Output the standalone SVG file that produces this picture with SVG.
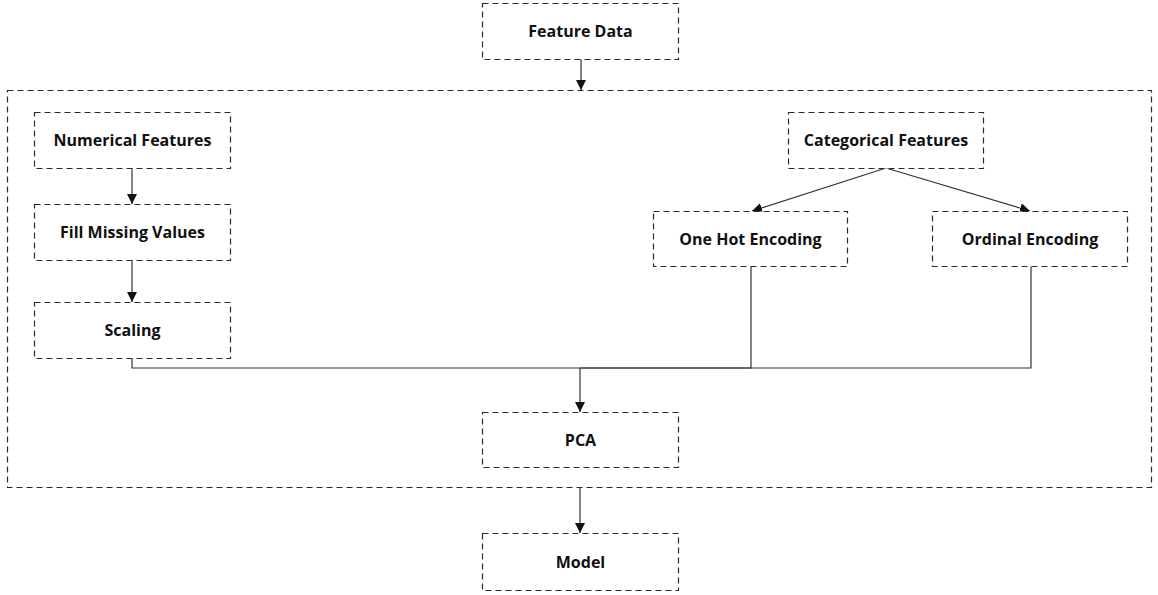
<svg xmlns="http://www.w3.org/2000/svg" width="1158" height="595" viewBox="0 0 1158 595">
<defs>
<style>
.box{fill:#fff;stroke:#2a2a2a;stroke-width:1.2;stroke-dasharray:6 4}
.outer{fill:none;stroke:#2a2a2a;stroke-width:1.2;stroke-dasharray:6 4}
.lbl{font-family:"Open Sans","Liberation Sans",sans-serif;font-weight:700;font-size:16px;fill:#111;text-anchor:middle;dominant-baseline:central}
.conn{fill:none;stroke:#333;stroke-width:1.2}
</style>
<marker id="arr" viewBox="0 0 10 10" refX="10" refY="5" markerWidth="10" markerHeight="10" markerUnits="userSpaceOnUse" orient="auto">
<path d="M0,0 L10,5 L0,10 z" fill="#111"/>
</marker>
</defs>
<rect width="1158" height="595" fill="#fff"/>
<g id="pipeline-frame"><rect class="outer" x="7.5" y="90.5" width="1144" height="397"/></g>
<g id="connectors">
<path class="conn" d="M581,59 V90" marker-end="url(#arr)"/>
<path class="conn" d="M132,168 V204" marker-end="url(#arr)"/>
<path class="conn" d="M132,260 V302" marker-end="url(#arr)"/>
<path class="conn" d="M886,168 L752,211" marker-end="url(#arr)"/>
<path class="conn" d="M886,168 L1030,211" marker-end="url(#arr)"/>
<path class="conn" d="M132,358 V368 H580"/>
<path class="conn" d="M751,266 V368 H580"/>
<path class="conn" d="M1031,266 V368 H580"/>
<path class="conn" d="M580,368 V412" marker-end="url(#arr)"/>
<path class="conn" d="M580,487 V533" marker-end="url(#arr)"/>
</g>
<g id="feature-data"><rect class="box" x="482.5" y="3.5" width="196" height="56"/><text class="lbl" x="580.5" y="31">Feature Data</text></g>
<g id="numerical-features"><rect class="box" x="34.5" y="112.5" width="196" height="56"/><text class="lbl" x="132.5" y="140">Numerical Features</text></g>
<g id="fill-missing-values"><rect class="box" x="34.5" y="204.5" width="196" height="56"/><text class="lbl" x="132.5" y="232">Fill Missing Values</text></g>
<g id="scaling"><rect class="box" x="34.5" y="302.5" width="196" height="56"/><text class="lbl" x="132.5" y="330">Scaling</text></g>
<g id="categorical-features"><rect class="box" x="788.5" y="112.5" width="195" height="56"/><text class="lbl" x="886" y="140">Categorical Features</text></g>
<g id="one-hot-encoding"><rect class="box" x="653.5" y="211.5" width="194" height="55"/><text class="lbl" x="750.5" y="239">One Hot Encoding</text></g>
<g id="ordinal-encoding"><rect class="box" x="932.5" y="211.5" width="195" height="55"/><text class="lbl" x="1030" y="239">Ordinal Encoding</text></g>
<g id="pca"><rect class="box" x="482.5" y="412.5" width="196" height="55"/><text class="lbl" x="580.5" y="440">PCA</text></g>
<g id="model"><rect class="box" x="482.5" y="533.5" width="196" height="57"/><text class="lbl" x="580.5" y="562">Model</text></g>
</svg>
